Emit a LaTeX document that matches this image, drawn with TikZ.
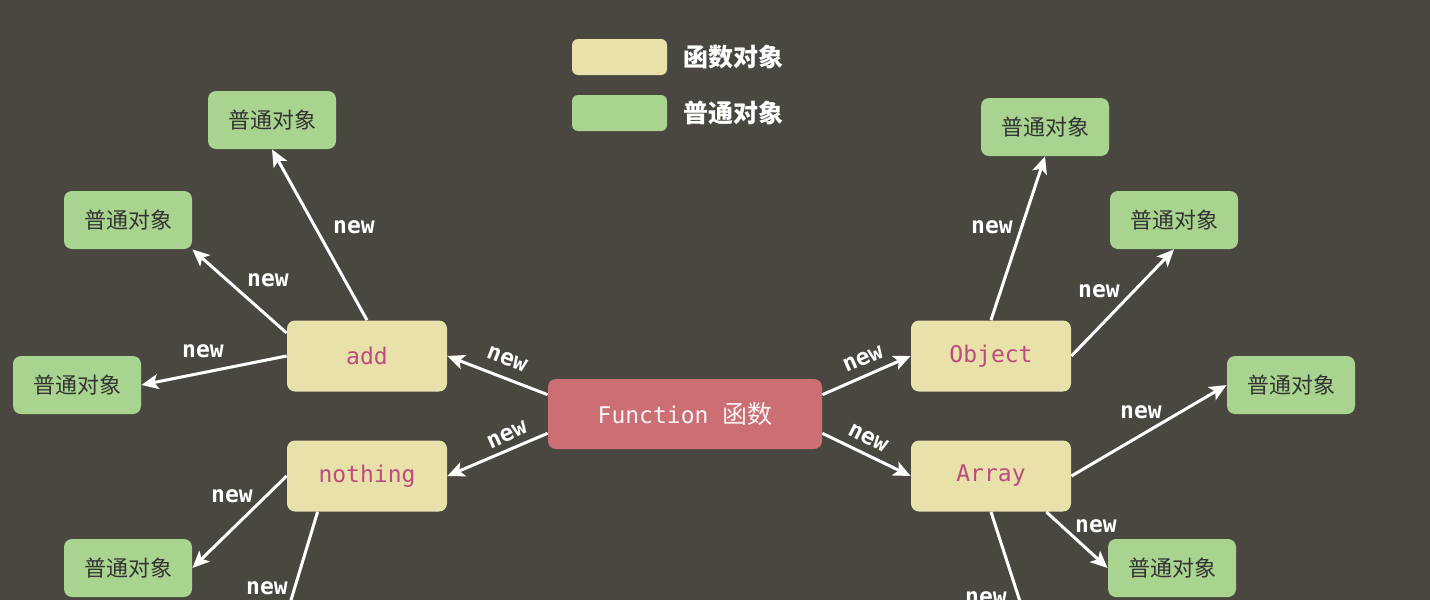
\documentclass[tikz,border=0pt]{standalone}
\usepackage{fontspec}
\setmainfont{DejaVu Sans}
\setmonofont{DejaVu Sans Mono}
\newfontfamily\cjk{Noto Sans CJK SC}
\usetikzlibrary{arrows.meta}
\definecolor{bgdark}{HTML}{4A4740}
\definecolor{fobj}{HTML}{E8E2AA}
\definecolor{pobj}{HTML}{A8D48F}
\definecolor{ctor}{HTML}{CC6F74}
\definecolor{kw}{HTML}{BE4B80}

\begin{document}
\begin{tikzpicture}[x=0.5pt,y=-0.5pt,
    fnbox/.style={fill=fobj,rounded corners=4pt,minimum width=80pt,minimum height=35.5pt,inner sep=0pt,
      font=\ttfamily\fontsize{11.5}{12}\selectfont,text=kw},
    objbox/.style={fill=pobj,rounded corners=4pt,minimum width=64pt,minimum height=29pt,inner sep=0pt,
      font=\cjk\fontsize{11}{12}\selectfont,text=black!80},
    keybox/.style={rounded corners=3pt,minimum width=47.5pt,minimum height=18pt,inner sep=0pt},
    newlbl/.style={font=\ttfamily\bfseries\fontsize{11.5}{12}\selectfont,text=white,inner sep=0pt},
    arr/.style={white,line width=1.5pt,-{Stealth[length=8.5pt,width=7.5pt,inset=2pt]}},
    link/.style={white,line width=1.5pt}]
    \clip (0,0) rectangle (1430,600);
    \fill[bgdark] (0,0) rectangle (1430,600);

    % legend
    \node[keybox,fill=fobj] (keyf) at (619.5,57) {};
    \node[keybox,fill=pobj] (keyp) at (619.5,113) {};
    \node[font=\cjk\bfseries\fontsize{12.5}{13}\selectfont,white] (keyftxt) at (733,57) {函数对象};
    \node[font=\cjk\bfseries\fontsize{12.5}{13}\selectfont,white] (keyptxt) at (733,113) {普通对象};

    % constructors
    \node[fill=ctor,rounded corners=4pt,minimum width=137pt,minimum height=35pt,inner sep=0pt,
      font=\ttfamily\fontsize{11.5}{12}\selectfont,text=white!92!ctor] (fn) at (685,414)
      {Function {\cjk\fontsize{12.5}{13}\selectfont 函数}};
    \node[fnbox] (add) at (367,356) {add};
    \node[fnbox] (nothing) at (367,476) {nothing};
    \node[fnbox] (obj) at (991,356) {Object};
    \node[fnbox] (arr) at (991,476) {Array};

    % plain objects
    \node[objbox] (pl1) at (272,120) {普通对象};
    \node[objbox] (pl2) at (128,220) {普通对象};
    \node[objbox] (pl3) at (77,385) {普通对象};
    \node[objbox] (pl4) at (128,568) {普通对象};
    \node[objbox] (pr1) at (1045,127) {普通对象};
    \node[objbox] (pr2) at (1174,220) {普通对象};
    \node[objbox] (pr3) at (1291,385) {普通对象};
    \node[objbox] (pr4) at (1172,568) {普通对象};
    \coordinate (offl) at (285,620);
    \coordinate (offr) at (1026,620);

    % Function -> function objects
    \draw[arr] (fn.172) -- (add.east);
    \draw[arr] (fn.188) -- (nothing.east);
    \draw[arr] (fn.8) -- (obj.west);
    \draw[arr] (fn.352) -- (arr.west);
    \node[newlbl,rotate=-21] (n1) at (507,359) {new};
    \node[newlbl,rotate=24] (n2) at (507,435) {new};
    \node[newlbl,rotate=23] (n3) at (863,359) {new};
    \node[newlbl,rotate=-27] (n4) at (868,438) {new};

    % left side
    \draw[arr] (add.north) -- (pl1.south);
    \draw[arr] (add.164) -- (pl2.south east);
    \draw[arr] (add.west) -- (pl3.east);
    \draw[arr] (nothing.west) -- (pl4.east);
    \draw[link] (nothing.216) -- (offl);
    \node[newlbl] (n5) at (354,227) {new};
    \node[newlbl] (n6) at (268,280) {new};
    \node[newlbl] (n7) at (203,351) {new};
    \node[newlbl] (n8) at (232,496) {new};
    \node[newlbl] (n9) at (267,588) {new};

    % right side
    \draw[arr] (obj.north) -- (pr1.south);
    \draw[arr] (obj.east) -- (pr2.south);
    \draw[arr] (arr.east) -- (pr3.west);
    \draw[arr] (arr.-33) -- (pr4.west);
    \draw[link] (arr.south) -- (offr);
    \node[newlbl] (n10) at (992,227) {new};
    \node[newlbl] (n11) at (1099,291) {new};
    \node[newlbl] (n12) at (1141,412) {new};
    \node[newlbl] (n13) at (1096,526) {new};
    \node[newlbl] (n14) at (986,598) {new};
  \end{tikzpicture}
\end{document}
